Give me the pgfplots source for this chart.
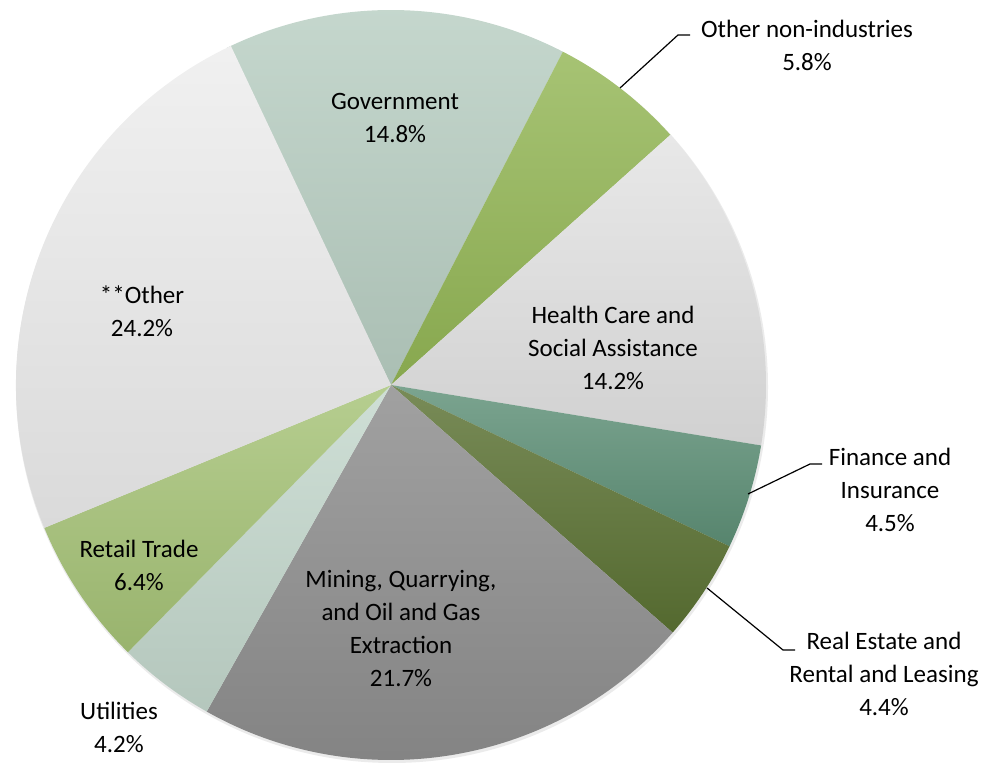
\documentclass[border=0pt]{standalone}
\usepackage{pgfplots}
\pgfplotsset{compat=1.18}
\usepackage{pgfplotstable}
\usepackage{fontspec}
\setmainfont{Carlito}

\definecolor{cGov}{HTML}{B9CFC3}
\definecolor{cOnon}{HTML}{93B655}
\definecolor{cHealth}{HTML}{E3E3E3}
\definecolor{cFin}{HTML}{5E9077}
\definecolor{cReal}{HTML}{5B7233}
\definecolor{cMin}{HTML}{8C8C8C}
\definecolor{cUtil}{HTML}{C4D8CD}
\definecolor{cRet}{HTML}{A6C377}
\definecolor{cOther}{HTML}{EDEDED}

\tikzset{lbl/.style={font=\fontsize{12.5}{16.5}\selectfont, align=center, text=black, inner sep=0pt}}

% shares in percent, clockwise from the Government slice
\pgfplotstableread[col sep=comma]{
name,value,color
Government,14.8,cGov
Other non-industries,5.8,cOnon
Health Care and Social Assistance,14.2,cHealth
Finance and Insurance,4.5,cFin
Real Estate and Rental and Leasing,4.4,cReal
{Mining, Quarrying, and Oil and Gas Extraction},21.7,cMin
Utilities,4.2,cUtil
Retail Trade,6.4,cRet
**Other,24.2,cOther
}\piedata

\begin{document}
\begin{tikzpicture}
\begin{axis}[
    hide axis,
    scale only axis,
    width=497pt, height=382pt,
    xmin=0, xmax=994, ymin=0, ymax=764,
    clip=false,
]
% soft shadow
\fill[black!8] (axis cs:392,377) circle[radius=376];

\pgfplotstablegetrowsof{\piedata}
\pgfmathtruncatemacro\nrows{\pgfplotsretval-1}
\def\angA{116}
\pgfplotsforeachungrouped \i in {0,...,\nrows}{
    \pgfplotstablegetelem{\i}{value}\of\piedata \let\v\pgfplotsretval
    \pgfplotstablegetelem{\i}{color}\of\piedata \let\c\pgfplotsretval
    \pgfmathsetmacro\angB{\angA-3.6*\v}
    \pgfmathsetmacro\sx{391+375*cos(\angA)}
    \pgfmathsetmacro\sy{379+375*sin(\angA)}
    \edef\temp{\noexpand\path[top color=\c!82!white, bottom color=\c!92!black]
        (axis cs:391,379) -- (axis cs:\sx,\sy)
        arc[start angle=\angA, end angle=\angB, radius=375] -- cycle;}
    \temp
    \global\let\angA\angB
}

% leader lines
\draw[line width=0.6pt] (axis cs:620,676) -- (axis cs:678,729) -- (axis cs:690,729);
\draw[line width=0.6pt] (axis cs:748,270) -- (axis cs:810,300) -- (axis cs:822,300);
\draw[line width=0.6pt] (axis cs:707,176) -- (axis cs:783,114) -- (axis cs:795,114);

% labels
\node[lbl] at (axis cs:395,646) {Government\\14.8\%};
\node[lbl] at (axis cs:807,719) {Other non-industries\\5.8\%};
\node[lbl] at (axis cs:613,416) {Health Care and\\Social Assistance\\14.2\%};
\node[lbl] at (axis cs:890,274) {Finance and\\Insurance\\4.5\%};
\node[lbl] at (axis cs:884,90) {Real Estate and\\Rental and Leasing\\4.4\%};
\node[lbl] at (axis cs:401,135) {Mining, Quarrying,\\and Oil and Gas\\Extraction\\21.7\%};
\node[lbl] at (axis cs:119,37) {Utilities\\4.2\%};
\node[lbl] at (axis cs:139,199) {Retail Trade\\6.4\%};
\node[lbl] at (axis cs:142,453) {**Other\\24.2\%};
\end{axis}
\pgfresetboundingbox
\useasboundingbox (0,0) rectangle (497pt,382pt);
\end{tikzpicture}
\end{document}
